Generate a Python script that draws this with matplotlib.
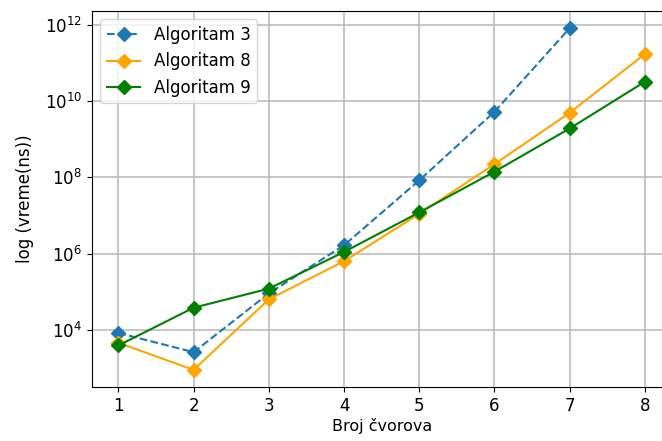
import matplotlib
matplotlib.use("Agg")
import matplotlib.pyplot as plt
from matplotlib.ticker import LogLocator, NullLocator

# broj cvorova
cvorovi = [1, 2, 3, 4, 5, 6, 7, 8]

# vreme izvrsavanja (ns)
alg3 = [8.3e3, 2.6e3, 9.0e4, 1.65e6, 8.3e7, 5.2e9, 8.1e11]
alg8 = [4.6e3, 8.9e2, 6.3e4, 6.3e5, 1.1e7, 2.2e8, 4.9e9, 1.7e11]
alg9 = [3.9e3, 3.8e4, 1.2e5, 1.1e6, 1.2e7, 1.4e8, 1.9e9, 3.2e10]

plt.rcParams['font.size'] = 12

fig = plt.figure(figsize=(6.62, 4.41), dpi=100)
ax = fig.add_axes([0.139, 0.1224, 0.875, 0.8526])

ax.plot(cvorovi[:len(alg3)], alg3, '--D', color='#1f77b4', label='Algoritam 3', markersize=7.5)
ax.plot(cvorovi, alg8, '-D', color='orange', label='Algoritam 8', markersize=7.5)
ax.plot(cvorovi, alg9, '-D', color='green', label='Algoritam 9', markersize=7.5)

ax.set_yscale('log')
ax.yaxis.set_major_locator(LogLocator(base=100))
ax.yaxis.set_minor_locator(NullLocator())
ax.set_xticks(cvorovi)
ax.grid(True, linewidth=1.2, color='#bdbdbd')
ax.set_xlabel('Broj čvorova', labelpad=2, fontsize=11.5)
ax.set_ylabel('log (vreme(ns))', labelpad=8)
ax.legend(loc='upper left')

fig.savefig('out.png', dpi=100)
